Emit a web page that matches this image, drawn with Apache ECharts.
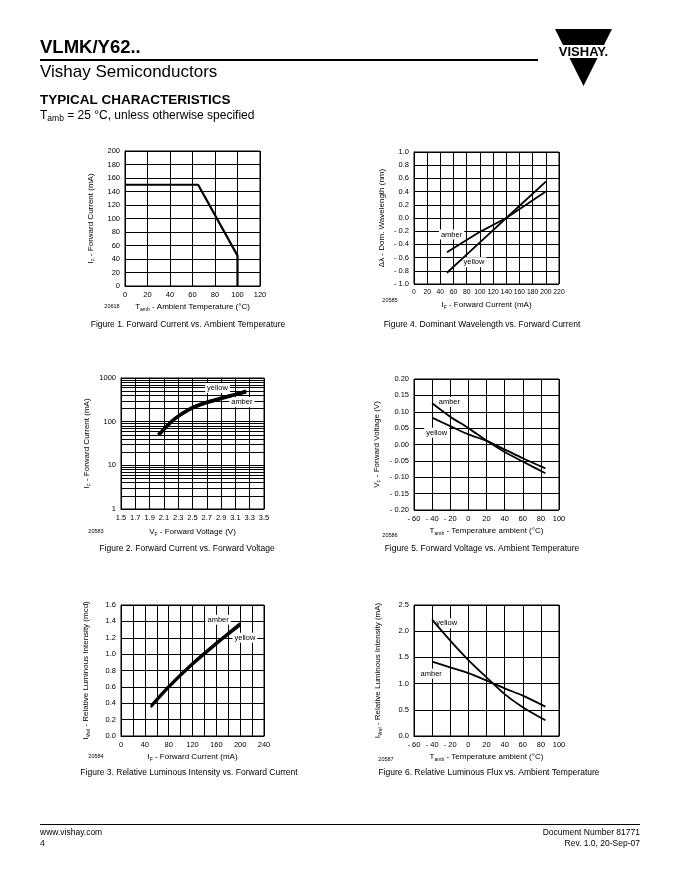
<!DOCTYPE html>
<html><head><meta charset="utf-8">
<script src="https://cdn.jsdelivr.net/npm/echarts@6/dist/echarts.min.js"></script>
<style>html,body{margin:0;padding:0;background:#fff}#c{width:680px;height:880px}</style>
</head><body><div id="c"></div>
<script>
// ---------- DATA ----------
// Figure 1: Forward current vs ambient temperature
const fig1Temp = [0, 65, 100, 100];
const fig1Current = [150, 150, 45, 0];
// Figure 2: Forward current vs forward voltage (log y)
const fig2VoltYellow = [2.02, 2.1, 2.2, 2.3, 2.5, 2.7, 2.9, 3.1, 3.25];
const fig2CurYellow = [50, 68, 100, 135, 212, 282, 348, 425, 500];
const fig2VoltAmber = [2.03, 2.11, 2.21, 2.31, 2.5, 2.7, 2.9, 3.1, 3.25];
const fig2CurAmber = [50, 68, 100, 135, 205, 272, 337, 412, 480];
const fig2MinorGrid = [2, 3, 4, 5, 6, 7, 8, 9, 20, 30, 40, 50, 60, 70, 80, 90, 200, 300, 400, 500, 600, 700, 800, 900];
// Figure 3: Relative luminous intensity vs forward current
const fig3Current = [50, 80, 120, 160, 200];
const fig3Amber = [0.37, 0.61, 0.89, 1.14, 1.38];
const fig3Yellow = [0.35, 0.59, 0.87, 1.12, 1.35];
// Figure 4: Dominant wavelength vs forward current
const fig4Current = [50, 100, 140, 200];
const fig4Amber = [-0.52, -0.21, 0.0, 0.40];
const fig4Yellow = [-0.83, -0.37, 0.0, 0.55];
// Figure 5: Forward voltage vs ambient temperature
const fig5Temp = [-40, -20, 0, 20, 40, 60, 85];
const fig5Amber = [0.126, 0.085, 0.05, 0.012, -0.023, -0.052, -0.088];
const fig5Yellow = [0.082, 0.056, 0.031, 0.011, -0.015, -0.042, -0.073];
// Figure 6: Relative luminous flux vs ambient temperature
const fig6Temp = [-40, -20, 0, 20, 40, 60, 85];
const fig6Yellow = [2.22, 1.82, 1.45, 1.12, 0.80, 0.55, 0.30];
const fig6Amber = [1.42, 1.31, 1.20, 1.06, 0.91, 0.77, 0.56];

// curve label anchors (data units)
const curveLabels = {
  fig2: [['yellow', 2.85, 590], ['amber', 3.19, 280]],
  fig3: [['amber', 163, 1.42], ['yellow', 208, 1.2]],
  fig4: [['amber', 57, -0.25], ['yellow', 91, -0.67]],
  fig5: [['amber', -21, 0.13], ['yellow', -35, 0.036]],
  fig6: [['yellow', -24, 2.15], ['amber', -41, 1.19]]
};

// ---------- CHART ----------
const FONT = '"Liberation Sans", Arial, Helvetica, sans-serif';
const zip = (a, b) => a.map((v, i) => [v, b[i]]);
function signed(d) { return v => { const s = Math.abs(v).toFixed(d); return v < -1e-9 ? '- ' + s : s; }; }
const richName = {
  n: { fontSize: 8, fontFamily: FONT, color: '#000', lineHeight: 11 },
  s: { fontSize: 5, fontFamily: FONT, color: '#000', verticalAlign: 'bottom' }
};
function lab(size, fmt) {
  const o = { fontSize: size, color: '#000', fontFamily: FONT, margin: 5, showMinLabel: true, showMaxLabel: true };
  if (fmt) o.formatter = fmt;
  return o;
}
function ax(grid, opt) {
  return Object.assign({
    gridIndex: grid, type: 'value', nameLocation: 'middle',
    nameTextStyle: { rich: richName, fontFamily: FONT, fontSize: 8, color: '#000' },
    axisLine: { show: true, lineStyle: { color: '#000', width: 1 } },
    axisTick: { show: false },
    splitLine: { show: true, lineStyle: { color: '#000', width: 1 } },
    axisLabel: lab(7.5)
  }, opt);
}
function line(xi, data, width, smooth, labels) {
  const s = {
    type: 'line', xAxisIndex: xi, yAxisIndex: xi, data: data, showSymbol: false, symbol: 'none',
    smooth: smooth, lineStyle: { color: '#000', width: width }, silent: true, animation: false, z: 5
  };
  if (labels) {
    s.markPoint = {
      symbol: 'rect', symbolSize: 1, itemStyle: { color: 'rgba(0,0,0,0)' }, silent: true, animation: false,
      data: labels.map(l => ({ coord: [l[1], l[2]], label: { show: true, position: 'inside', formatter: l[0], backgroundColor: '#fff', padding: [1, 2], fontSize: 7.5, fontFamily: FONT, color: '#000' } }))
    };
  }
  return s;
}

const grids = [
  { left: 125, top: 151, width: 135, height: 135 }, // fig1
  { left: 121, top: 378, width: 143, height: 131 }, // fig2
  { left: 121, top: 605, width: 143, height: 131 }, // fig3
  { left: 414, top: 152, width: 145, height: 132 }, // fig4
  { left: 414, top: 379, width: 145, height: 131 }, // fig5
  { left: 414, top: 605, width: 145, height: 131 }  // fig6
].map(g => Object.assign({ show: true, borderColor: '#000', borderWidth: 1, containLabel: false }, g));

const xAxes = [
  ax(0, { min: 0, max: 120, interval: 20, nameGap: 15, name: '{n|T}{s|amb}{n| - Ambient Temperature (°C)}' }),
  ax(1, { min: 1.5, max: 3.5, interval: 0.2, nameGap: 17, name: '{n|V}{s|F}{n| - Forward Voltage (V)}', axisLabel: lab(7.5, v => v.toFixed(1)) }),
  ax(2, { min: 0, max: 240, interval: 20, nameGap: 15, name: '{n|I}{s|F}{n| - Forward Current (mA)}', axisLabel: lab(7.5, v => (Math.round(v) % 40 === 0 ? String(Math.round(v)) : '')) }),
  ax(3, { min: 0, max: 220, interval: 20, nameGap: 15, name: '{n|I}{s|F}{n| - Forward Current (mA)}', axisLabel: lab(6.8) }),
  ax(4, { min: -60, max: 100, interval: 20, nameGap: 15, name: '{n|T}{s|amb}{n| - Temperature ambient (°C)}', axisLabel: lab(7.5, signed(0)) }),
  ax(5, { min: -60, max: 100, interval: 20, nameGap: 15, name: '{n|T}{s|amb}{n| - Temperature ambient (°C)}', axisLabel: lab(7.5, signed(0)) })
];
const yAxes = [
  ax(0, { min: 0, max: 200, interval: 20, nameRotate: 90, nameGap: 29, name: '{n|I}{s|F}{n| - Forward Current (mA)}' }),
  ax(1, { type: 'log', logBase: 10, min: 1, max: 1000, nameRotate: 90, nameGap: 29, name: '{n|I}{s|F}{n| - Forward Current (mA)}', axisLabel: lab(7.5, v => String(Math.round(v))) }),
  ax(2, { min: 0, max: 1.6, interval: 0.2, nameRotate: 90, nameGap: 30, name: '{n|I}{s|Vrel}{n| - Relative Luminous Intensity (mcd)}', axisLabel: lab(7.5, v => v.toFixed(1)) }),
  ax(3, { min: -1, max: 1, interval: 0.2, nameRotate: 90, nameGap: 27, name: '{n|Δλ - Dom. Wavelength (nm)}', axisLabel: lab(7.5, signed(1)) }),
  ax(4, { min: -0.2, max: 0.2, interval: 0.05, nameRotate: 90, nameGap: 32, name: '{n|V}{s|F}{n| - Forward Voltage (V)}', axisLabel: lab(7.5, signed(2)) }),
  ax(5, { min: 0, max: 2.5, interval: 0.5, nameRotate: 90, nameGap: 31, name: '{n|I}{s|Vrel}{n| - Relative Luminous Intensity (mA)}', axisLabel: lab(7.5, v => v.toFixed(1)) })
];

const fig2Minor = {
  type: 'line', xAxisIndex: 1, yAxisIndex: 1, data: [], silent: true, animation: false,
  markLine: { symbol: 'none', silent: true, animation: false, label: { show: false },
    lineStyle: { color: '#000', width: 1, type: 'solid' },
    data: fig2MinorGrid.map(v => ({ yAxis: v })) }
};

const series = [
  line(0, zip(fig1Temp, fig1Current), 2.2, false),
  fig2Minor,
  line(1, zip(fig2VoltYellow, fig2CurYellow), 3.2, 0.15, curveLabels.fig2),
  line(1, zip(fig2VoltAmber, fig2CurAmber), 3.2, 0.15),
  line(2, zip(fig3Current, fig3Amber), 2.2, 0.3, curveLabels.fig3),
  line(2, zip(fig3Current, fig3Yellow), 2.2, 0.3),
  line(3, zip(fig4Current, fig4Amber), 1.8, false, curveLabels.fig4),
  line(3, zip(fig4Current, fig4Yellow), 1.8, false),
  line(4, zip(fig5Temp, fig5Amber), 1.8, 0.3, curveLabels.fig5),
  line(4, zip(fig5Temp, fig5Yellow), 1.8, 0.3),
  line(5, zip(fig6Temp, fig6Yellow), 1.8, 0.3, curveLabels.fig6),
  line(5, zip(fig6Temp, fig6Amber), 1.8, 0.3)
];

function txt(x, y, text, size, opts) {
  return Object.assign({ type: 'text', x: x, y: y, silent: true,
    style: Object.assign({ text: text, fontSize: size, fontFamily: FONT, fill: '#000', verticalAlign: 'middle' }, (opts && opts.style) || {}) }, opts && opts.el || {});
}
const captions = [
  [188, 325, 'Figure 1. Forward Current vs. Ambient Temperature'],
  [482, 325, 'Figure 4. Dominant Wavelength vs. Forward Current'],
  [187, 549, 'Figure 2. Forward Current vs. Forward Voltage'],
  [482, 549, 'Figure 5. Forward Voltage vs. Ambient Temperature'],
  [189, 773, 'Figure 3. Relative Luminous Intensity vs. Forward Current'],
  [489, 773, 'Figure 6. Relative Luminous Flux vs. Ambient Temperature']
];
const codes = [[112, 306, '20618'], [390, 300, '20585'], [96, 531, '20583'], [390, 535, '20586'], [96, 756, '20584'], [386, 759, '20587']];

const graphic = [
  txt(40, 48, 'VLMK/Y62..', 18.5, { style: { fontWeight: 'bold' } }),
  { type: 'rect', shape: { x: 40, y: 59, width: 498, height: 2 }, style: { fill: '#000' }, silent: true },
  txt(40, 72, 'Vishay Semiconductors', 17),
  { type: 'polygon', shape: { points: [[555, 29], [612, 29], [583.5, 86]] }, style: { fill: '#000' }, silent: true },
  { type: 'rect', shape: { x: 550, y: 45, width: 66, height: 13 }, style: { fill: '#fff' }, silent: true },
  txt(583.5, 52, 'VISHAY.', 13, { style: { fontWeight: 'bold', align: 'center' } }),
  txt(40, 100, 'TYPICAL CHARACTERISTICS', 13.5, { style: { fontWeight: 'bold' } }),
  { type: 'text', x: 40, y: 116, silent: true, style: { text: '{n|T}{s|amb}{n| = 25 °C, unless otherwise specified}', verticalAlign: 'middle',
      rich: { n: { fontSize: 12, fontFamily: FONT, fill: '#000', lineHeight: 15 }, s: { fontSize: 8.5, fontFamily: FONT, fill: '#000', verticalAlign: 'bottom' } } } },
  { type: 'rect', shape: { x: 40, y: 824, width: 600, height: 1 }, style: { fill: '#000' }, silent: true },
  txt(40, 833, 'www.vishay.com', 8.5),
  txt(40, 844, '4', 8.5),
  txt(640, 833, 'Document Number 81771', 8.5, { style: { align: 'right' } }),
  txt(640, 844, 'Rev. 1.0, 20-Sep-07', 8.5, { style: { align: 'right' } })
].concat(captions.map(c => txt(c[0], c[1], c[2], 8.5, { style: { align: 'center' } })))
 .concat(codes.map(c => txt(c[0], c[1], c[2], 5.5, { style: { align: 'center' } })));

const chart = echarts.init(document.getElementById('c'), null, { renderer: 'canvas' });
chart.setOption({
  animation: false,
  backgroundColor: '#fff',
  textStyle: { fontFamily: FONT },
  grid: grids, xAxis: xAxes, yAxis: yAxes, series: series, graphic: graphic
});
</script></body></html>
